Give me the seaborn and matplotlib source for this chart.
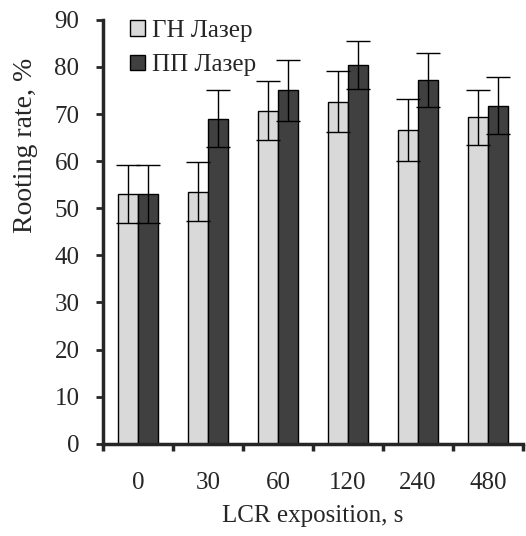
import numpy as np
import pandas as pd
import matplotlib
matplotlib.use("Agg")
import matplotlib.pyplot as plt
import seaborn as sns

# data
exposition = ["0", "30", "60", "120", "240", "480"]
gn_laser = [53.0, 53.5, 70.7, 72.6, 66.6, 69.3]
pp_laser = [53.0, 69.0, 75.0, 80.5, 77.2, 71.8]
gn_err = [6.2, 6.3, 6.3, 6.5, 6.6, 5.8]
pp_err = [6.2, 6.1, 6.4, 5.1, 5.7, 6.0]
series = ["ГН Лазер", "ПП Лазер"]
colors = ["#d9d9d9", "#404040"]

df = pd.DataFrame({
    "exposition": exposition * 2,
    "rate": gn_laser + pp_laser,
    "err": gn_err + pp_err,
    "series": [series[0]] * len(exposition) + [series[1]] * len(exposition),
})

sns.set_style("ticks")
plt.rcParams["font.family"] = ["Liberation Serif", "DejaVu Serif"]
fs = 18

fig = plt.figure(figsize=(5.26, 5.36), dpi=100)
ax = fig.add_axes([0.196, 0.172, 0.798, 0.791])

sns.barplot(data=df, x="exposition", y="rate", hue="series",
            order=exposition, hue_order=series, palette=colors,
            width=0.57, errorbar=None, edgecolor="black", linewidth=1.0,
            saturation=1, ax=ax)

# error bars at the bar centres
for i, name in enumerate(series):
    sub = df[df["series"] == name]
    bars = ax.containers[i]
    xs = [b.get_x() + b.get_width() / 2 for b in bars]
    ax.errorbar(xs, sub["rate"], yerr=sub["err"], fmt="none",
                ecolor="black", elinewidth=1.0, capsize=8.5, capthick=1.0)

ax.set_ylim(0, 90)
ax.set_yticks(range(0, 91, 10))
ax.set_xlim(-0.5, len(exposition) - 0.5)

# tick marks between groups, labels at group centres
ax.set_xticks(np.arange(-0.5, len(exposition), 1.0))
ax.set_xticklabels([])
ax.set_xticks(range(len(exposition)), minor=True)
ax.set_xticklabels(exposition, minor=True)
ax.tick_params(axis="x", which="minor", length=0, pad=20, labelsize=fs)
ax.tick_params(axis="x", which="major", length=5, width=2.5, direction="out")
ax.tick_params(axis="y", length=5, width=2, direction="out", labelsize=fs, pad=12)

for side in ["top", "right"]:
    ax.spines[side].set_visible(False)
for side in ["left", "bottom"]:
    ax.spines[side].set_linewidth(2.5)

ax.set_xlabel("LCR exposition, s", fontsize=fs, labelpad=8)
ax.set_ylabel("Rooting rate, %", fontsize=20)
ax.yaxis.set_label_coords(-0.155, 0.705)

ax.legend(loc="upper left", bbox_to_anchor=(0.065, 1.0), frameon=False,
          fontsize=fs, handlelength=0.6, handleheight=0.6, handletextpad=0.25,
          labelspacing=0.5, borderaxespad=0, borderpad=0)

fig.savefig("out.png", dpi=100)
